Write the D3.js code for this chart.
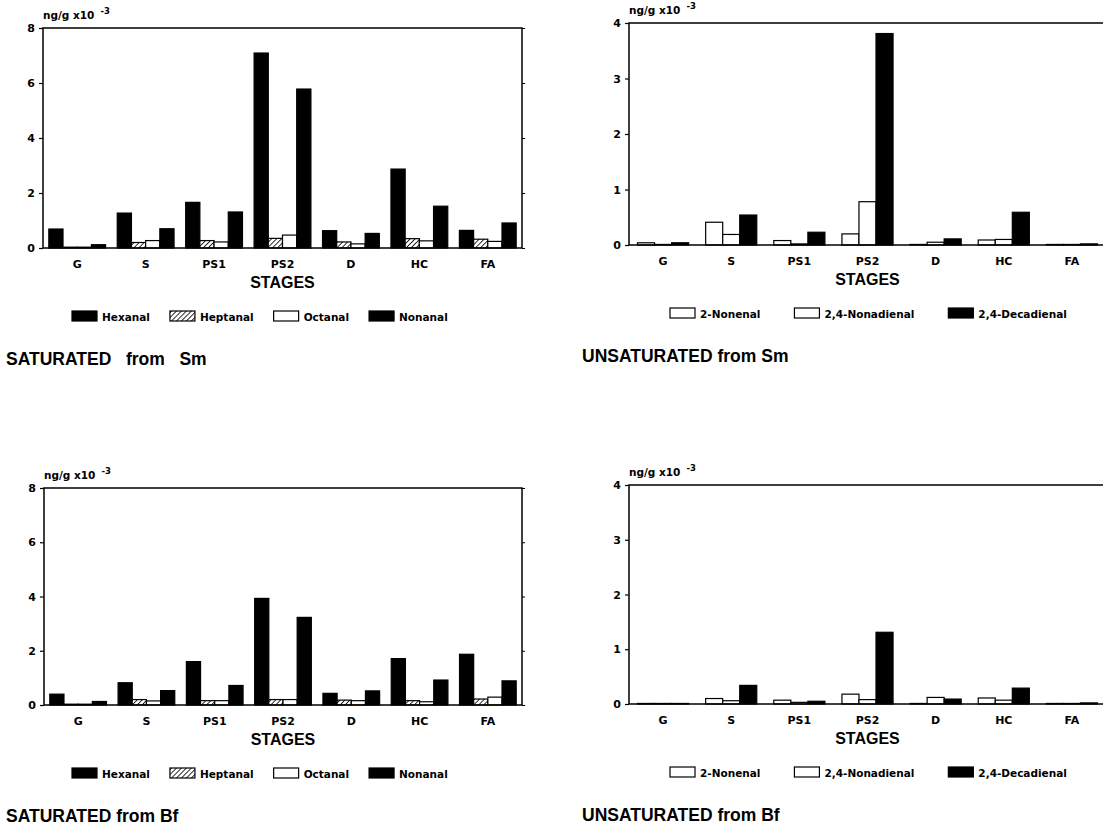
<!DOCTYPE html>
<html>
<head>
<meta charset="utf-8">
<script src="https://cdn.jsdelivr.net/npm/d3@7"></script>
<style>
  body { margin: 0; background: #fff; }
  text { fill: #000; }
  .lbl { font-family: "DejaVu Sans", sans-serif; font-weight: bold; }
  .big { font-family: "Liberation Sans", Arial, sans-serif; font-weight: bold; }
</style>
</head>
<body>
<svg id="chart" width="1103" height="833"></svg>
<script>

// ---- data ----
const stages = ["G", "S", "PS1", "PS2", "D", "HC", "FA"];
const satSeries = ["Hexanal", "Heptanal", "Octanal", "Nonanal"];
const unsatSeries = ["2-Nonenal", "2,4-Nonadienal", "2,4-Decadienal"];

// SATURATED from Sm
const satSmHexanal  = [0.69, 1.27, 1.66, 7.09, 0.63, 2.87, 0.64];
const satSmHeptanal = [0.03, 0.20, 0.27, 0.35, 0.22, 0.34, 0.32];
const satSmOctanal  = [0.03, 0.27, 0.22, 0.47, 0.15, 0.26, 0.24];
const satSmNonanal  = [0.12, 0.70, 1.31, 5.78, 0.53, 1.52, 0.91];

// UNSATURATED from Sm
const unsatSmNonenal    = [0.04, 0.41, 0.08, 0.20, 0.01, 0.09, 0.01];
const unsatSmNonadienal = [0.01, 0.19, 0.02, 0.78, 0.05, 0.10, 0.01];
const unsatSmDecadienal = [0.04, 0.54, 0.23, 3.81, 0.11, 0.59, 0.02];

// SATURATED from Bf
const satBfHexanal  = [0.40, 0.82, 1.60, 3.93, 0.43, 1.71, 1.87];
const satBfHeptanal = [0.03, 0.20, 0.16, 0.20, 0.18, 0.16, 0.22];
const satBfOctanal  = [0.03, 0.15, 0.16, 0.20, 0.16, 0.12, 0.29];
const satBfNonanal  = [0.13, 0.53, 0.72, 3.23, 0.52, 0.92, 0.89];

// UNSATURATED from Bf
const unsatBfNonenal    = [0.01, 0.10, 0.07, 0.18, 0.01, 0.11, 0.01];
const unsatBfNonadienal = [0.01, 0.06, 0.03, 0.08, 0.12, 0.07, 0.01];
const unsatBfDecadienal = [0.01, 0.34, 0.05, 1.31, 0.09, 0.29, 0.02];

const satTicks = [0, 2, 4, 6, 8];
const unsatTicks = [0, 1, 2, 3, 4];

// fill per series
const fills = {
    "Hexanal": "#000", "Heptanal": "url(#hatch)", "Octanal": "#fff", "Nonanal": "#000",
    "2-Nonenal": "#fff", "2,4-Nonadienal": "#fff", "2,4-Decadienal": "#000"
};

const svg = d3.select("#chart");

// hatch for Heptanal
svg.append("defs").append("pattern")
    .attr("id", "hatch")
    .attr("patternUnits", "userSpaceOnUse")
    .attr("width", 3.5).attr("height", 3.5)
    .attr("patternTransform", "rotate(45)")
    .call(p => {
        p.append("rect").attr("width", 3.5).attr("height", 3.5).attr("fill", "#fff");
        p.append("line").attr("x1", 0).attr("y1", 0).attr("x2", 0).attr("y2", 3.5)
            .attr("stroke", "#000").attr("stroke-width", 1.6);
    });

function drawPanel(cfg) {

    let g = svg.append("g");

    let x0 = d3.scaleBand()
        .domain(stages)
        .range([cfg.left, cfg.right])
        .paddingInner(cfg.padIn)
        .paddingOuter(cfg.padOut);

    let x1 = d3.scaleBand()
        .domain(cfg.series)
        .range([0, x0.bandwidth()]);

    let y = d3.scaleLinear()
        .domain([0, cfg.max])
        .range([cfg.bottom, cfg.top]);

    let rows = [];
    stages.forEach((s, i) => {
        cfg.series.forEach((name, k) => {
            rows.push({ stage: s, name: name, value: cfg.values[k][i] });
        });
    });

    //
    // BARS
    //
    g.append("g")
        .selectAll("rect")
        .data(rows)
        .enter().append("rect")
            .attr("x", d => x0(d.stage) + x1(d.name))
            .attr("y", d => y(d.value))
            .attr("width", x1.bandwidth())
            .attr("height", d => y(0) - y(d.value))
            .style("fill", d => fills[d.name])
            .style("stroke", "#000")
            .style("stroke-width", 1.2);

    //
    // FRAME + AXES
    //
    g.append("rect")
        .attr("x", cfg.left).attr("y", cfg.top)
        .attr("width", cfg.right - cfg.left)
        .attr("height", cfg.bottom - cfg.top)
        .style("fill", "none")
        .style("stroke", "#000")
        .style("stroke-width", 1.5);

    let yAxis = g.append("g")
        .attr("transform", `translate(${cfg.left},0)`)
        .call(d3.axisLeft(y).tickValues(cfg.ticks).tickSize(4).tickPadding(4).tickFormat(d3.format("d")));
    yAxis.select(".domain").remove();
    yAxis.selectAll("line").style("stroke-width", 1.2);
    yAxis.selectAll("text")
        .attr("class", "lbl")
        .style("font-size", "11px")
        .attr("fill", "#000");

    let yRight = g.append("g")
        .attr("transform", `translate(${cfg.right},0)`)
        .call(d3.axisLeft(y).tickValues(cfg.ticks).tickSize(-3).tickFormat(""));
    yRight.select(".domain").remove();

    let xAxis = g.append("g")
        .attr("transform", `translate(0,${cfg.bottom})`)
        .call(d3.axisBottom(x0).tickSize(0).tickPadding(12));
    xAxis.select(".domain").remove();
    xAxis.selectAll("text")
        .attr("class", "lbl")
        .style("font-size", "11px")
        .attr("fill", "#000");

    // unit label
    let unit = g.append("text")
        .attr("class", "lbl")
        .attr("x", cfg.left)
        .attr("y", cfg.top - 9)
        .style("font-size", "10.5px")
        .text("ng/g x10");
    unit.append("tspan")
        .attr("dx", 6).attr("dy", -5)
        .style("font-size", "8.5px")
        .text("-3");

    g.append("text")
        .attr("class", "big")
        .attr("x", (cfg.left + cfg.right) / 2)
        .attr("y", cfg.bottom + 40)
        .attr("text-anchor", "middle")
        .style("font-size", "16px")
        .text("STAGES");

    //
    // LEGEND
    //
    let leg = g.append("g")
        .attr("transform", `translate(${cfg.legendX},${cfg.bottom + 63})`);
    let cx = 0;
    cfg.series.forEach(name => {
        leg.append("rect")
            .attr("x", cx).attr("y", 0)
            .attr("width", 25).attr("height", 10)
            .style("fill", fills[name])
            .style("stroke", "#000")
            .style("stroke-width", 1.2);
        let t = leg.append("text")
            .attr("class", "lbl")
            .attr("x", cx + 30).attr("y", 10)
            .style("font-size", "10.5px")
            .text(name);
        cx += 30 + t.node().getComputedTextLength() + cfg.legendGap;
    });

    // title
    g.append("text")
        .attr("class", "big")
        .attr("x", cfg.titleX)
        .attr("y", cfg.bottom + 117)
        .style("font-size", "17.5px")
        .style("white-space", "pre")
        .text(cfg.title);
}

drawPanel({
    left: 43, right: 522, top: 28, bottom: 248, max: 8, ticks: satTicks,
    padIn: 0.17, padOut: 0.085, series: satSeries,
    values: [satSmHexanal, satSmHeptanal, satSmOctanal, satSmNonanal],
    legendX: 72, legendGap: 20, titleX: 6, title: "SATURATED   from   Sm"
});

drawPanel({
    left: 629, right: 1106, top: 23, bottom: 245, max: 4, ticks: unsatTicks,
    padIn: 0.25, padOut: 0.125, series: unsatSeries,
    values: [unsatSmNonenal, unsatSmNonadienal, unsatSmDecadienal],
    legendX: 670, legendGap: 34, titleX: 582, title: "UNSATURATED from Sm"
});

drawPanel({
    left: 44, right: 522, top: 488, bottom: 705, max: 8, ticks: satTicks,
    padIn: 0.17, padOut: 0.085, series: satSeries,
    values: [satBfHexanal, satBfHeptanal, satBfOctanal, satBfNonanal],
    legendX: 72, legendGap: 20, titleX: 6, title: "SATURATED from Bf"
});

drawPanel({
    left: 629, right: 1106, top: 485, bottom: 704, max: 4, ticks: unsatTicks,
    padIn: 0.25, padOut: 0.125, series: unsatSeries,
    values: [unsatBfNonenal, unsatBfNonadienal, unsatBfDecadienal],
    legendX: 670, legendGap: 34, titleX: 582, title: "UNSATURATED from Bf"
});

</script>
</body>
</html>
